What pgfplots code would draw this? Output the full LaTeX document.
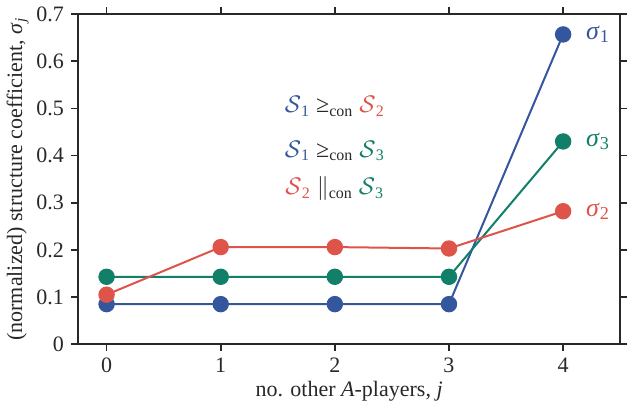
\documentclass[border=0pt]{standalone}
\usepackage{pgfplots}
\pgfplotsset{compat=1.18}
\usepackage{fontspec}
\setmainfont{Liberation Serif}
\definecolor{cblue}{RGB}{52,86,156}
\definecolor{cred}{RGB}{222,84,74}
\definecolor{cgreen}{RGB}{18,127,104}
\definecolor{cdark}{RGB}{40,40,40}
\newcommand{\strat}[1]{$\mathcal{S}$\textsubscript{#1}}
\newcommand{\sig}[1]{\textit{σ}\textsubscript{#1}}
\begin{document}
\begin{tikzpicture}
\begin{axis}[
  scale only axis,
  width=271pt, height=165pt,
  xmin=-0.25, xmax=4.5,
  ymin=0, ymax=0.7,
  xtick={0,1,2,3,4},
  ytick={0,0.1,0.2,0.3,0.4,0.5,0.6,0.7},
  yticklabels={0,0.1,0.2,0.3,0.4,0.5,0.6,0.7},
  tick align=outside,
  major tick length=3.5pt,
  axis line style={line width=0.8pt, cdark},
  every tick/.style={line width=0.8pt, cdark},
  tick label style={font=\fontsize{11}{13}\selectfont, text=cdark},
  label style={font=\fontsize{11}{13}\selectfont, text=cdark},
  /pgf/number format/assume math mode=true,
  xlabel={no. other \textit{A}-players, \textit{j}},
  ylabel={(normalized) structure coefficient, \sig{\textit{j}}},
  xlabel style={yshift=3pt},
  ylabel style={yshift=-3pt},
  clip=false,
]
\addplot[cblue, line width=1pt, mark=*, mark size=3.6pt, mark options={fill=cblue, draw=cblue}]
  coordinates {(0,0.085) (1,0.085) (2,0.085) (3,0.085) (4,0.657)};
\addplot[cgreen, line width=1pt, mark=*, mark size=3.6pt, mark options={fill=cgreen, draw=cgreen}]
  coordinates {(0,0.143) (1,0.143) (2,0.143) (3,0.143) (4,0.43)};
\addplot[cred, line width=1pt, mark=*, mark size=3.6pt, mark options={fill=cred, draw=cred}]
  coordinates {(0,0.105) (1,0.206) (2,0.206) (3,0.203) (4,0.282)};
\node[anchor=west, text=cblue, font=\fontsize{13}{14}\selectfont] at (axis cs:4.14,0.657) {\sig{1}};
\node[anchor=west, text=cgreen, font=\fontsize{13}{14}\selectfont] at (axis cs:4.14,0.43) {\sig{3}};
\node[anchor=west, text=cred, font=\fontsize{13}{14}\selectfont] at (axis cs:4.14,0.282) {\sig{2}};
\node[font=\fontsize{12}{13}\selectfont] at (axis cs:2.0,0.505) {\textcolor{cblue}{\strat{1}} \textcolor{cdark}{≥\textsubscript{con}} \textcolor{cred}{\strat{2}}};
\node[font=\fontsize{12}{13}\selectfont] at (axis cs:2.0,0.41) {\textcolor{cblue}{\strat{1}} \textcolor{cdark}{≥\textsubscript{con}} \textcolor{cgreen}{\strat{3}}};
\node[font=\fontsize{12}{13}\selectfont] at (axis cs:2.0,0.33) {\textcolor{cred}{\strat{2}} \textcolor{cdark}{$\|$\textsubscript{con}} \textcolor{cgreen}{\strat{3}}};
\end{axis}
\end{tikzpicture}
\end{document}
